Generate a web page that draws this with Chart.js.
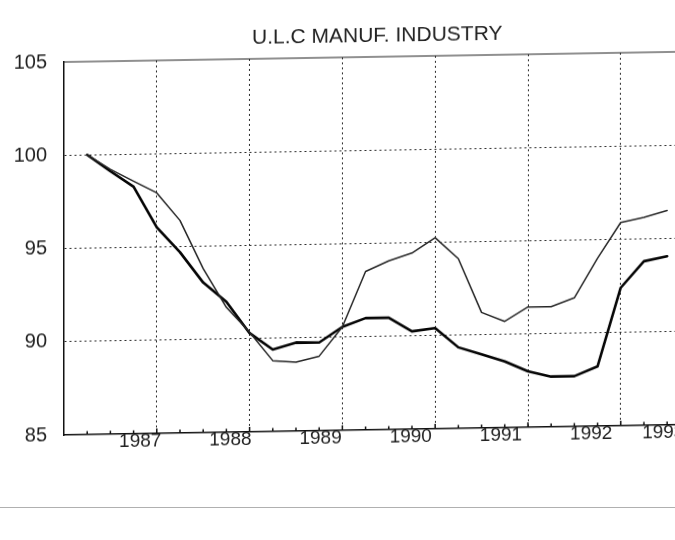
<!DOCTYPE html>
<html><head><meta charset="utf-8">
<script src="https://cdn.jsdelivr.net/npm/chart.js@4.4.1/dist/chart.umd.min.js"></script>
<style>
html,body{margin:0;padding:0;background:#fff;overflow:hidden;width:675px;height:540px;}
#wrap{position:relative;width:675px;height:540px;overflow:hidden;background:#fff;}
#c{position:absolute;left:0;top:0;transform:skewY(-0.95deg);transform-origin:64px 434px;}
#edge{position:absolute;left:0;top:507px;width:675px;height:1px;background:#b0b0b0;}
</style></head><body>
<div id="wrap"><canvas id="c" width="700" height="540"></canvas><div id="edge"></div></div>
<script>
// Quarterly observations (index 1986Q1 = 0)
const quarters = ['1986Q2','1986Q3','1986Q4',
  '1987Q1','1987Q2','1987Q3','1987Q4',
  '1988Q1','1988Q2','1988Q3','1988Q4',
  '1989Q1','1989Q2','1989Q3','1989Q4',
  '1990Q1','1990Q2','1990Q3','1990Q4',
  '1991Q1','1991Q2','1991Q3','1991Q4',
  '1992Q1','1992Q2','1992Q3'];
// thin line (upper in 1989-1992)
const ulcA = [100, 99.2, 98.55, 97.9, 96.4, 93.8, 91.7, 90.35, 88.8, 88.7, 89.0, 90.55,
  93.5, 94.05, 94.45, 95.25, 94.1, 91.2, 90.7, 91.45, 91.45, 91.9, 94.0, 95.9, 96.15, 96.5];
// thick line (lower in 1989-1992)
const ulcB = [100, 99.1, 98.25, 96.05, 94.7, 93.05, 92.0, 90.3, 89.4, 89.75, 89.73, 90.55,
  91.0, 91.0, 90.25, 90.4, 89.35, 88.95, 88.55, 88.0, 87.7, 87.7, 88.2, 92.4, 93.8, 94.05];
const yTicks = [85, 90, 95, 100, 105];
const yearLabels = ['1987','1988','1989','1990','1991','1992','1993'];
const chartTitle = 'U.L.C MANUF. INDUSTRY';

function qIndex(label){
  const y = parseInt(label.slice(0,4),10);
  const q = label.length > 4 ? parseInt(label.slice(5),10) : 1;
  return (y - 1986) * 4 + (q - 1);
}
const FONT = '"Liberation Sans", Arial, sans-serif';

const decor = {
  id: 'decor',
  afterDatasetsDraw(chart){
    const {ctx, chartArea: a, scales: {x}} = chart;
    ctx.save();
    // top frame line
    ctx.strokeStyle = '#222'; ctx.lineWidth = 1.2;
    ctx.beginPath(); ctx.moveTo(a.left, a.top); ctx.lineTo(a.right, a.top); ctx.stroke();
    // quarterly tick marks on the bottom axis
    ctx.strokeStyle = '#111'; ctx.lineWidth = 1.5;
    for (let q = 1; q <= x.max; q++) {
      const px = x.getPixelForValue(q);
      const h = (q % 4 === 0) ? 5 : 3.5;
      ctx.beginPath(); ctx.moveTo(px, a.bottom); ctx.lineTo(px, a.bottom - h); ctx.stroke();
    }
    // year labels (printed slightly left of each year line, on a marginally tighter pitch)
    ctx.fillStyle = '#222'; ctx.font = '19px ' + FONT;
    ctx.textAlign = 'center'; ctx.textBaseline = 'middle';
    yearLabels.forEach(y => {
      const w = ctx.measureText(y).width;
      const g = x.getPixelForValue(qIndex(y + 'Q1'));
      let px = a.left + (g - a.left) * 0.972 - 14;
      px = Math.min(px, a.right - 6 - w / 2);
      ctx.fillText(y, px, a.bottom + 8);
    });
    // title
    ctx.font = '21px ' + FONT;
    ctx.fillText(chartTitle, (a.left + a.right) / 2, a.top - 21);
    ctx.restore();
  }
};

new Chart(document.getElementById('c'), {
  type: 'line',
  data: {
    datasets: [
      { label: 'A', data: quarters.map((q, i) => ({x: qIndex(q), y: ulcA[i]})),
        borderColor: '#262626', borderWidth: 1.5, fill: false },
      { label: 'B', data: quarters.map((q, i) => ({x: qIndex(q), y: ulcB[i]})),
        borderColor: '#050505', borderWidth: 2.6, fill: false }
    ]
  },
  options: {
    responsive: false, animation: false, devicePixelRatio: 1,
    layout: { padding: { top: 62, right: 9.6, bottom: 0, left: 0 } },
    plugins: { legend: { display: false }, title: { display: false }, tooltip: { enabled: false } },
    elements: { point: { radius: 0 }, line: { tension: 0, borderJoinStyle: 'round', borderCapStyle: 'round' } },
    scales: {
      x: {
        type: 'linear', min: 0, max: 27,
        afterBuildTicks: s => { s.ticks = quarters.filter(q => q.endsWith('Q1')).map(q => ({value: qIndex(q)})); },
        afterFit: s => { s.height = 105; },
        ticks: { display: false },
        grid: { color: '#2a2a2a', lineWidth: 1, drawTicks: false },
        border: { display: true, color: '#111', width: 1.5, dash: [2, 3] }
      },
      y: {
        min: 85, max: 105,
        afterBuildTicks: s => { s.ticks = yTicks.map(v => ({value: v})); },
        afterFit: s => { s.width = 64; },
        ticks: { color: '#222', font: { family: FONT, size: 20 }, padding: 17 },
        grid: { drawTicks: false, lineWidth: 1,
          color: c => (c.tick && (c.tick.value === 85 || c.tick.value === 105)) ? 'rgba(0,0,0,0)' : '#2a2a2a' },
        border: { color: '#111', width: 1.5, dash: [2, 3] }
      }
    }
  },
  plugins: [decor]
});
</script>
</body></html>
